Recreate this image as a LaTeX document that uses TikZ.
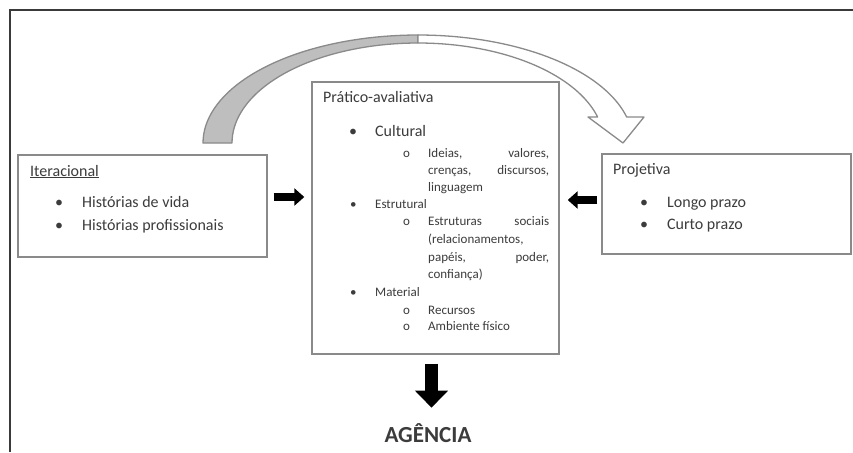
\documentclass[tikz,border=0pt]{standalone}
\usepackage{fontspec}
\setmainfont{Carlito}
\usetikzlibrary{arrows.meta,calc}

\definecolor{boxgray}{HTML}{8A8A8A}
\definecolor{textgray}{HTML}{3C3C3C}
\definecolor{framegray}{HTML}{3A3A3A}
\definecolor{backgray}{HTML}{BEBEBE}

\tikzset{
  box/.style={draw=boxgray, line width=1.4pt, inner sep=0pt},
  txt/.style={anchor=west, inner sep=0pt, text height=10pt, text depth=2pt,
    text=textgray, font=\fontsize{16}{19}\selectfont},
  smalltxt/.style={txt, text height=8.5pt, text depth=1.5pt, font=\fontsize{13}{16}\selectfont},
  blockarrow/.style={draw=black, line width=8pt, -{Triangle[length=10pt,width=17pt]}},
  bent/.style={draw=boxgray, line width=1.3pt, line join=round},
}

\begin{document}
\begin{tikzpicture}[x=1pt,y=-1pt]
  \useasboundingbox (0,0) rectangle (853,452);
  \fill[white] (0,0) rectangle (853,452);
  \draw[framegray, line width=2.5pt] (10,452) -- (10,10) -- (853,10);

  % curved arrow over the boxes
  \filldraw[bent, fill=backgray]
    plot[domain=180:270, samples=40] ({418+215*cos(\x)}, {143+108*sin(\x)})
    -- plot[domain=270:180, samples=40] ({418+186*cos(\x)}, {143+100*sin(\x)}) -- cycle;
  \filldraw[bent, fill=white]
    plot[domain=270:346.1, samples=40] ({418+215*cos(\x)}, {143+108*sin(\x)})
    -- (644,117) -- (623,143) -- (588,117)
    -- plot[domain=344.93:270, samples=40] ({418+186*cos(\x)}, {143+100*sin(\x)}) -- cycle;

  % the three boxes
  \node[box, minimum width=249pt, minimum height=102pt] (iter) at (142.5,206) {};
  \node[box, minimum width=247pt, minimum height=272pt] (prat) at (435.5,218) {};
  \node[box, minimum width=249pt, minimum height=100pt] (proj) at (726.5,204) {};

  % Iteracional
  \node[txt] (iterT) at (30,172) {\underline{Iteracional}};
  \node[txt] (iterB1) at (55,203) {•};
  \node[txt] (iterL1) at (82,203) {Histórias de vida};
  \node[txt] (iterB2) at (55,226) {•};
  \node[txt] (iterL2) at (82,226) {Histórias profissionais};

  % Projetiva
  \node[txt] (projT) at (613,170) {Projetiva};
  \node[txt] (projB1) at (640,203) {•};
  \node[txt] (projL1) at (667,203) {Longo prazo};
  \node[txt] (projB2) at (640,225) {•};
  \node[txt] (projL2) at (667,225) {Curto prazo};

  % Pratico-avaliativa
  \node[txt] (pratT) at (323,98) {Prático-avaliativa};
  \node[txt] (cultB) at (349,132) {•};
  \node[txt] (cultT) at (375,132) {Cultural};
  \node[smalltxt] (cultO) at (403,154) {o};
  \node[smalltxt] (cultL1) at (428,154) {\hbox to 121pt{Ideias,\hfill valores,}};
  \node[smalltxt] (cultL2) at (428,171) {\hbox to 121pt{crenças,\hfill discursos,}};
  \node[smalltxt] (cultL3) at (428,188) {linguagem};
  \node[smalltxt] (estrB) at (350,205) {•};
  \node[smalltxt] (estrT) at (375,205) {Estrutural};
  \node[smalltxt] (estrO) at (403,222) {o};
  \node[smalltxt] (estrL1) at (428,222) {\hbox to 121pt{Estruturas\hfill sociais}};
  \node[smalltxt] (estrL2) at (428,240) {(relacionamentos,};
  \node[smalltxt] (estrL3) at (428,258) {\hbox to 121pt{papéis,\hfill poder,}};
  \node[smalltxt] (estrL4) at (428,275) {confiança)};
  \node[smalltxt] (matB) at (350,293) {•};
  \node[smalltxt] (matT) at (375,293) {Material};
  \node[smalltxt] (matO1) at (403,311) {o};
  \node[smalltxt] (matL1) at (428,311) {Recursos};
  \node[smalltxt] (matO2) at (403,327) {o};
  \node[smalltxt] (matL2) at (428,327) {Ambiente físico};

  % block arrows
  \draw[blockarrow] ($(iter.east)+(6,-9)$) -- ($(iter.east -| prat.west)+(-7,-9)$);
  \draw[blockarrow] ($(proj.west)+(-4,-4)$) -- ($(proj.west -| prat.east)+(8,-4)$);
  \draw[blockarrow, line width=13pt, -{Triangle[length=17pt,width=32pt]}]
    ($(prat.south)+(-4,9)$) -- ($(prat.south)+(-4,53)$);

  \node[inner sep=0pt, text=textgray, font=\fontsize{23}{28}\selectfont\bfseries] (agencia) at (428,433) {AGÊNCIA};
\end{tikzpicture}
\end{document}
